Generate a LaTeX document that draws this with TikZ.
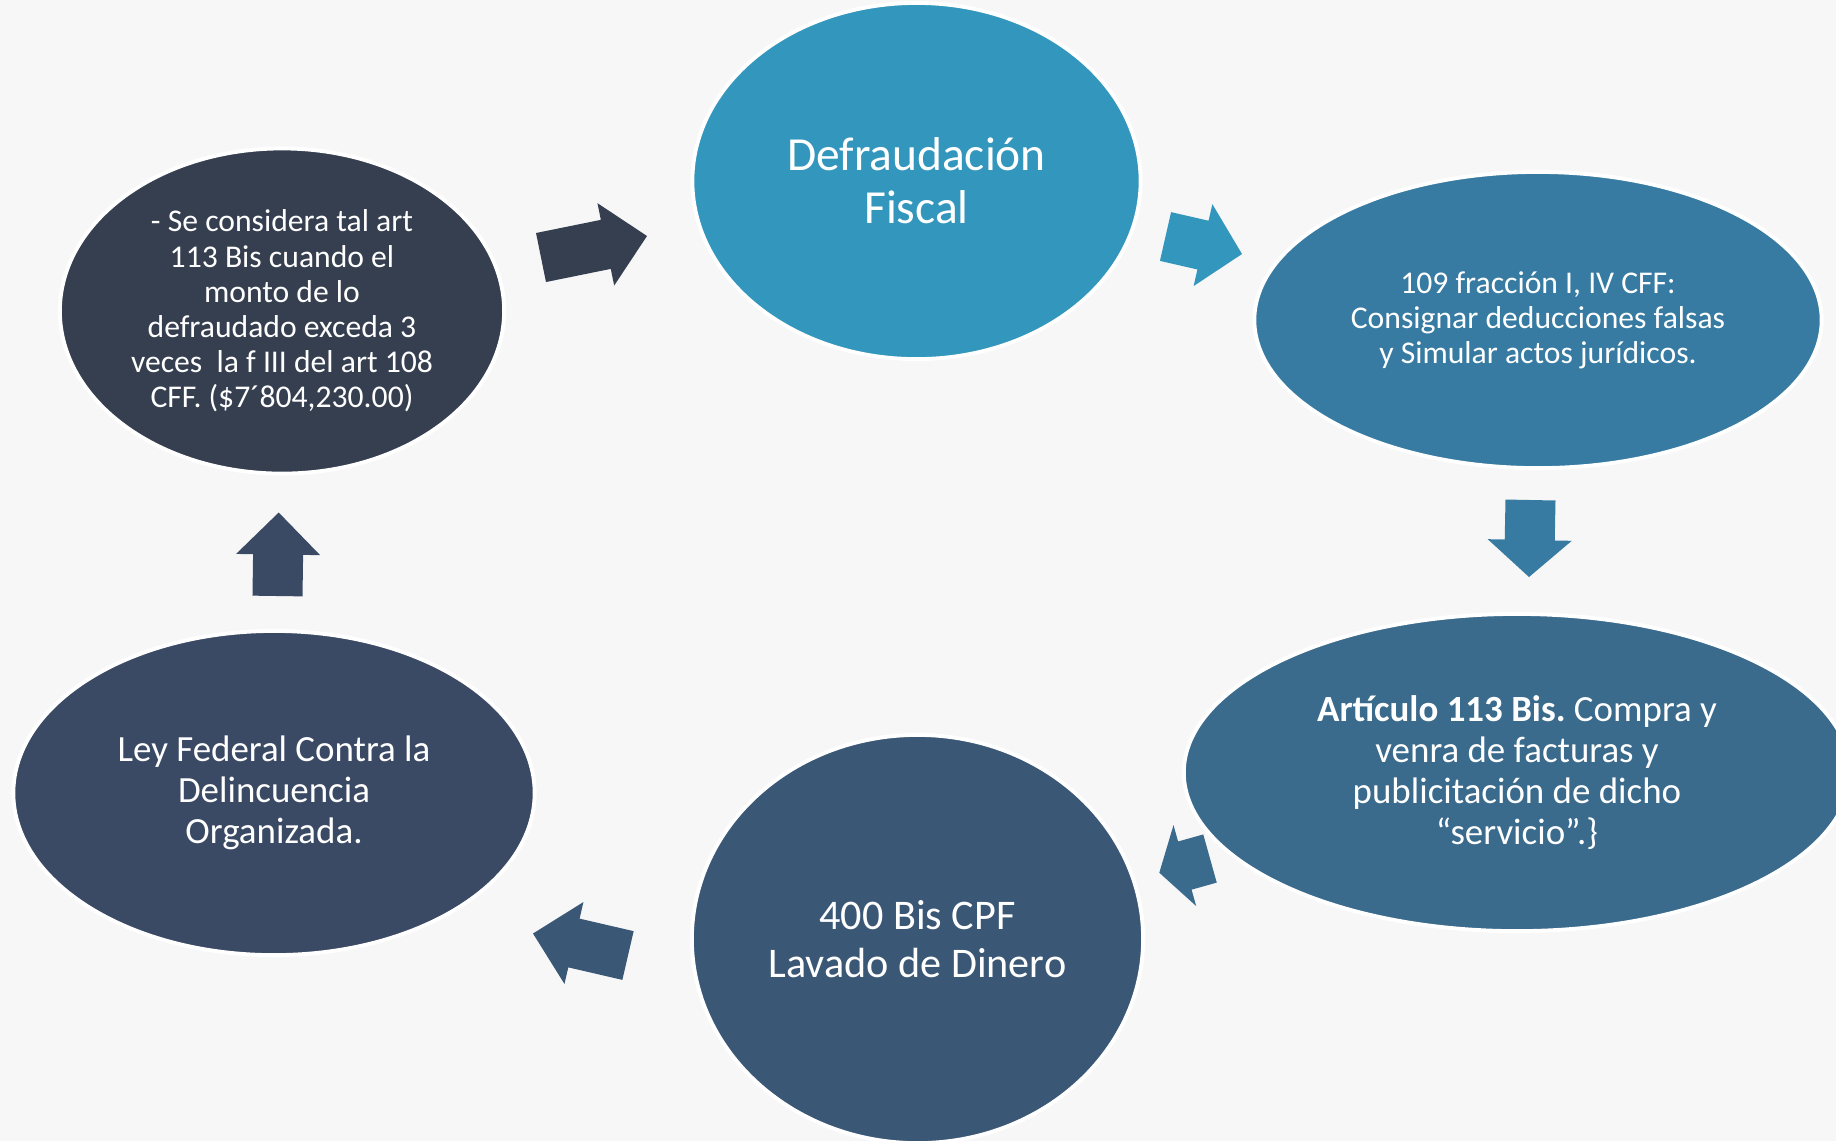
\documentclass[tikz,border=0pt]{standalone}
\usepackage{fontspec}
\setmainfont{Carlito}
\usepackage{tikz}
\usepackage{xcolor}
\usetikzlibrary{shapes.geometric, calc}

\definecolor{fondo}{HTML}{F7F7F7}
\definecolor{cDef}{HTML}{3397BD}
\definecolor{cFra}{HTML}{377BA2}
\definecolor{cArt}{HTML}{3A6A8C}
\definecolor{cLav}{HTML}{3A5776}
\definecolor{cLey}{HTML}{3B4A64}
\definecolor{cSec}{HTML}{363F50}
\frenchspacing

\begin{document}
\begin{tikzpicture}[x=0.01cm, y=-0.01cm,
  burbuja/.style={ellipse, draw=white, line width=1.1pt, inner sep=0pt, text=white, align=center}]
\useasboundingbox (0,0) rectangle (1836,1141);
\fill[fondo] (0,0) rectangle (1836,1141);

% Defraudacion Fiscal
\node[burbuja, fill=cDef, minimum width=4.48cm, minimum height=3.56cm, font=\fontsize{13.5}{15}\selectfont] (def) at (916.5,181) {Defraudación\\Fiscal};

% 109 fraccion
\node[burbuja, fill=cFra, minimum width=5.67cm, minimum height=2.96cm, font=\fontsize{9}{10}\selectfont] (fra) at (1538,320) {109 fracción I, IV CFF:\\Consignar deducciones falsas\\y Simular actos jurídicos.};

% Articulo 113 Bis
\node[burbuja, fill=cArt, minimum width=6.66cm, minimum height=3.17cm, font=\fontsize{10.5}{11.7}\selectfont] (art) at (1517,772.5) {\textbf{Artículo 113 Bis.} Compra y\\venra de facturas y\\publicitación de dicho\\“servicio”.\}};

% 400 Bis CPF
\node[burbuja, fill=cLav, minimum width=4.51cm, minimum height=4.08cm, font=\fontsize{12}{13.5}\selectfont] (lav) at (917.5,939) {400 Bis CPF\\Lavado de Dinero};

% Ley Federal
\node[burbuja, fill=cLey, minimum width=5.21cm, minimum height=3.24cm, font=\fontsize{10.5}{11.7}\selectfont] (ley) at (274,793) {Ley Federal Contra la\\Delincuencia\\Organizada.};

% Se considera
\node[burbuja, fill=cSec, minimum width=4.44cm, minimum height=3.25cm, font=\fontsize{9}{10}\selectfont] (sec) at (282,311) {- Se considera tal art\\113 Bis cuando el\\monto de lo\\defraudado exceda 3\\veces\ \ la f III del art 108\\CFF. (\$7´804,230.00)};

% Flechas
\coordinate (a1s) at (541,257.5);   \coordinate (a1e) at (647,236);
\coordinate (a2s) at (1165.5,236.5); \coordinate (a2e) at (1242,254);
\coordinate (a3s) at (1530.5,500);  \coordinate (a3e) at (1529,577);
\coordinate (a4s) at (1210,858.5);  \coordinate (a4e) at (1159.3,872.7);
\coordinate (a5s) at (628,955.5);   \coordinate (a5e) at (533,933.5);
\coordinate (a6s) at (277.5,596);   \coordinate (a6e) at (278.7,512.5);
\foreach \s/\e/\hl/\c in {a1s/a1e/0.42cm/cSec, a2s/a2e/0.40cm/cDef, a3s/a3e/0.37cm/cFra,
                          a4s/a4e/0.265cm/cArt, a5s/a5e/0.42cm/cLav, a6s/a6e/0.42cm/cLey} {
    \coordinate (h) at ($(\e)!\hl!(\s)$);
    \fill[\c] ($(\s)!0.25cm!90:(\e)$) -- ($(h)!0.25cm!90:(\e)$) -- ($(h)!0.42cm!90:(\e)$) -- (\e)
        -- ($(h)!0.42cm!-90:(\e)$) -- ($(h)!0.25cm!-90:(\e)$) -- ($(\s)!0.25cm!-90:(\e)$) -- cycle;
}
\end{tikzpicture}
\end{document}
